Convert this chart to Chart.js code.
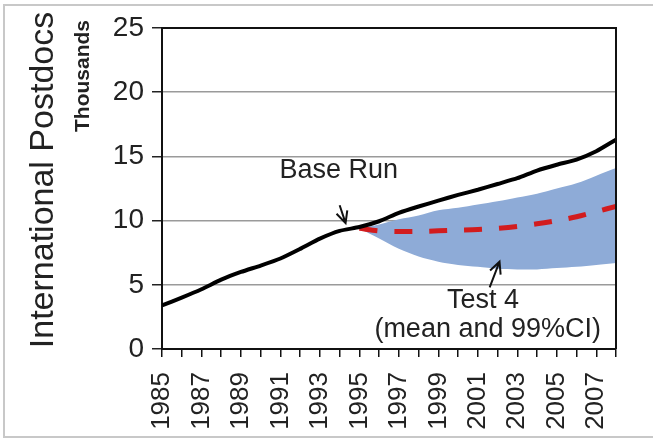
<!DOCTYPE html>
<html>
<head>
<meta charset="utf-8">
<script src="https://cdn.jsdelivr.net/npm/chart.js@4"></script>
<style>
  html, body { margin: 0; padding: 0; background: #fff; }
  canvas { display: block; }
</style>
</head>
<body>
<canvas id="c" width="653" height="443"></canvas>
<script>
// --- data (thousands) ---
const years = [1985, 1986, 1987, 1988, 1989, 1990, 1991, 1992, 1993, 1994, 1995, 1996,
               1997, 1998, 1999, 2000, 2001, 2002, 2003, 2004, 2005, 2006, 2007, 2008];
const baseRun = [3.4, 4.0, 4.65, 5.4, 6.0, 6.5, 7.05, 7.8, 8.6, 9.2, 9.5, 9.95,
                 10.6, 11.1, 11.55, 12.0, 12.4, 12.85, 13.3, 13.9, 14.35, 14.75, 15.4, 16.3];

const testYears = [1995, 1996, 1997, 1998, 1999, 2000, 2001, 2002, 2003, 2004, 2005, 2006, 2007, 2008];
const testMean = [9.4, 9.2, 9.15, 9.15, 9.2, 9.25, 9.3, 9.4, 9.55, 9.75, 10.0, 10.3, 10.7, 11.1];
const ciLow    = [9.4, 8.6, 7.8, 7.2, 6.8, 6.55, 6.4, 6.25, 6.2, 6.2, 6.3, 6.4, 6.55, 6.7];
const ciHigh   = [9.4, 9.7, 10.1, 10.4, 10.8, 11.0, 11.25, 11.5, 11.8, 12.1, 12.5, 12.9, 13.5, 14.1];

const yTicks = [0, 5, 10, 15, 20, 25];

const FONT = "'Liberation Sans', Arial, sans-serif";

const pts = (xs, ys) => xs.map((x, i) => ({ x, y: ys[i] }));

// labels + arrows, placed in data space
const notes = [
  { text: 'Base Run', x: 1993.95, y: 13.9 },
  { text: 'Test 4', x: 2001.26, y: 3.8 },
  { text: '(mean and 99%CI)', x: 2001.5, y: 1.5 }
];
const arrows = [
  { from: [1994.0, 11.2], to: [1994.3, 9.8] },
  { from: [2001.6, 4.8], to: [2002.1, 6.8] }
];

const decor = {
  id: 'decor',
  beforeDraw(chart) {
    const ctx = chart.ctx;
    ctx.save();
    ctx.fillStyle = '#fff';
    ctx.fillRect(0, 0, chart.width, chart.height);
    // faint outer frame
    ctx.strokeStyle = '#c8c8c8';
    ctx.lineWidth = 2;
    ctx.beginPath();
    ctx.moveTo(700, 5); ctx.lineTo(4, 5); ctx.lineTo(4, 437); ctx.lineTo(700, 437);
    ctx.stroke();
    ctx.restore();
  },
  afterDraw(chart) {
    const ctx = chart.ctx;
    const a = chart.chartArea;
    const xs = chart.scales.x, ys = chart.scales.y;
    ctx.save();
    // plot frame: right and top edges
    ctx.strokeStyle = '#111';
    ctx.lineWidth = 2;
    ctx.beginPath();
    ctx.moveTo(a.left, a.top); ctx.lineTo(a.right, a.top); ctx.lineTo(a.right, a.bottom);
    ctx.stroke();

    // axis titles
    ctx.fillStyle = '#222';
    ctx.textAlign = 'center';
    ctx.textBaseline = 'middle';
    ctx.save();
    ctx.translate(44, 180);
    ctx.rotate(-Math.PI / 2);
    ctx.font = '34px ' + FONT;
    ctx.fillText('International Postdocs', 0, 0);
    ctx.restore();
    ctx.save();
    ctx.translate(83, 76);
    ctx.rotate(-Math.PI / 2);
    ctx.font = 'bold 21px ' + FONT;
    ctx.fillText('Thousands', 0, 0);
    ctx.restore();

    // annotations
    ctx.font = '27px ' + FONT;
    notes.forEach(n => {
      ctx.fillText(n.text, xs.getPixelForValue(n.x), ys.getPixelForValue(n.y));
    });
    ctx.strokeStyle = '#111';
    ctx.lineWidth = 2;
    arrows.forEach(ar => {
      const x0 = xs.getPixelForValue(ar.from[0]), y0 = ys.getPixelForValue(ar.from[1]);
      const x1 = xs.getPixelForValue(ar.to[0]), y1 = ys.getPixelForValue(ar.to[1]);
      const ang = Math.atan2(y1 - y0, x1 - x0);
      const h = 13, spread = 0.45;
      ctx.beginPath();
      ctx.moveTo(x0, y0); ctx.lineTo(x1, y1);
      ctx.moveTo(x1 - h * Math.cos(ang - spread), y1 - h * Math.sin(ang - spread));
      ctx.lineTo(x1, y1);
      ctx.lineTo(x1 - h * Math.cos(ang + spread), y1 - h * Math.sin(ang + spread));
      ctx.stroke();
    });
    ctx.restore();
  }
};

new Chart(document.getElementById('c'), {
  type: 'line',
  data: {
    datasets: [
      {
        label: 'Base Run',
        data: pts(years, baseRun),
        borderColor: '#000',
        borderWidth: 4,
        pointRadius: 0,
        tension: 0.2,
        fill: false,
        order: 0
      },
      {
        label: 'Test 4 mean',
        data: pts(testYears, testMean),
        borderColor: '#d21c1e',
        borderWidth: 5,
        borderDash: [18, 17],
        borderCapStyle: 'butt',
        pointRadius: 0,
        tension: 0.3,
        fill: false,
        order: 1
      },
      {
        label: 'CI low',
        data: pts(testYears, ciLow),
        borderWidth: 0,
        borderColor: 'rgba(0,0,0,0)',
        pointRadius: 0,
        tension: 0.3,
        fill: false,
        order: 3
      },
      {
        label: 'CI high',
        data: pts(testYears, ciHigh),
        borderWidth: 0,
        borderColor: 'rgba(0,0,0,0)',
        backgroundColor: '#8eabd7',
        pointRadius: 0,
        tension: 0.3,
        fill: '-1',
        order: 2
      }
    ]
  },
  options: {
    responsive: false,
    animation: false,
    layout: { padding: { left: 0, top: 28, right: 37, bottom: 0 } },
    plugins: {
      legend: { display: false },
      tooltip: { enabled: false },
      filler: { propagate: false }
    },
    scales: {
      x: {
        type: 'linear',
        min: 1985,
        max: 2008,
        afterFit: s => { s.height = 94; s.paddingLeft = 0; s.paddingRight = 0; },
        border: { display: true, color: '#111', width: 2 },
        grid: { drawOnChartArea: false, drawTicks: true, tickLength: 8, color: '#111', lineWidth: 1.5 },
        ticks: {
          stepSize: 1,
          autoSkip: false,
          maxRotation: 90,
          minRotation: 90,
          padding: 15,
          color: '#222',
          font: { family: FONT, size: 26 },
          callback: v => (v % 2 === 1 ? String(v) : '')
        }
      },
      y: {
        min: yTicks[0],
        max: yTicks[yTicks.length - 1],
        afterFit: s => { s.width = 162; },
        afterBuildTicks: s => { s.ticks = yTicks.map(v => ({ value: v })); },
        border: { display: true, color: '#111', width: 2 },
        grid: {
          color: c => (c.tick && c.tick.value === 25 ? '#111' : '#9a9a9a'),
          lineWidth: 1.5,
          tickLength: 10,
          tickColor: '#222'
        },
        ticks: {
          padding: 8,
          color: '#222',
          font: { family: FONT, size: 28 }
        }
      }
    }
  },
  plugins: [decor]
});
</script>
</body>
</html>
